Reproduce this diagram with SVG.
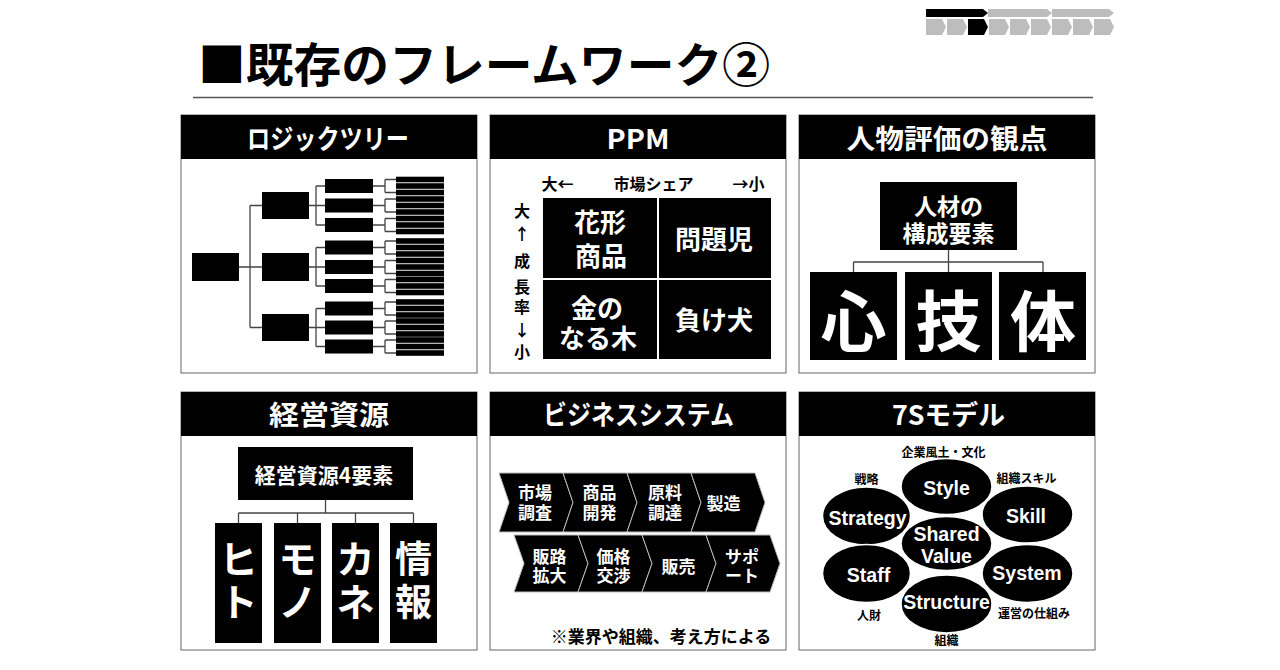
<svg xmlns="http://www.w3.org/2000/svg" width="1280" height="670" viewBox="0 0 1280 670">
<style>
text{font-family:"Noto Sans CJK JP","Noto Sans",sans-serif;font-weight:700;dominant-baseline:central;text-anchor:middle}
tspan{dominant-baseline:central}
.lt{font-family:"Liberation Sans","Noto Sans CJK JP",sans-serif}
.ar{font-family:"Noto Sans CJK JP",sans-serif}
.panel{fill:#fff;stroke:#666;stroke-width:1}
.hdr{fill:#000}
.ht{fill:#fff;font-size:27px}
.b{fill:#000}
.w{fill:#fff}
.con{stroke:#444;stroke-width:1.3;fill:none}
.chev{fill:#000;stroke:#bbb;stroke-width:1}
.ell{fill:#000;stroke:#fff;stroke-width:1.5}
.gr{fill:#bdbdbd}
.sm{font-size:12px;fill:#000}
.s7{font-family:"Liberation Sans","Noto Sans CJK JP",sans-serif;font-size:19.5px;fill:#fff}
</style>
<rect width="1280" height="670" fill="#fff"/>

<g id="progress">
<polygon points="926,9 983,9 988,13 983,17 926,17" fill="#000"/>
<polygon class="gr" points="988,9 1047,9 1052,13 1047,17 988,17"/>
<polygon class="gr" points="1052,9 1109,9 1114,13 1109,17 1052,17"/>
<polygon class="gr" points="926,19 942,19 946,27 942,35 926,35"/>
<polygon class="gr" points="947,19 963,19 967,27 963,35 947,35"/>
<polygon points="968,19 984,19 988,27 984,35 968,35" fill="#000"/>
<polygon class="gr" points="989,19 1005,19 1009,27 1005,35 989,35"/>
<polygon class="gr" points="1010,19 1026,19 1030,27 1026,35 1010,35"/>
<polygon class="gr" points="1031,19 1047,19 1051,27 1047,35 1031,35"/>
<polygon class="gr" points="1052,19 1068,19 1072,27 1068,35 1052,35"/>
<polygon class="gr" points="1073,19 1089,19 1093,27 1089,35 1073,35"/>
<polygon class="gr" points="1094,19 1110,19 1114,27 1110,35 1094,35"/>
</g>

<g id="title">
<text x="198" y="61" font-size="47" style="text-anchor:start" textLength="572" lengthAdjust="spacingAndGlyphs">■既存のフレームワーク②</text>
<line x1="193" y1="97.5" x2="1093" y2="97.5" stroke="#555" stroke-width="1.5"/>
</g>

<!-- Panel 1: Logic tree -->
<g id="panel-logictree">
<rect class="panel" x="181" y="115" width="296" height="258"/>
<rect class="hdr" x="181" y="115" width="296" height="44"/>
<text class="ht" x="328" y="137" textLength="162" lengthAdjust="spacingAndGlyphs">ロジックツリー</text>
<g id="lt-connectors">
<path class="con" d="M239,267H262 M250,205.5V327.5 M250,205.5H262 M250,327.5H262
M309,205.5H325 M316,186V225 M316,186H325 M316,225H325
M309,267H325 M316,247.5V286 M316,247.5H325 M316,286H325
M309,327.5H325 M316,308.5V346.5 M316,308.5H325 M316,346.5H325
M373,186H385 M385,179.5V192.5 M385,179.5H396 M385,192.5H396
M373,205.5H385 M385,199V212 M385,199H396 M385,212H396
M373,225H385 M385,218.5V231.5 M385,218.5H396 M385,231.5H396
M373,247.5H385 M385,241V254 M385,241H396 M385,254H396
M373,267H385 M385,260.5V273.5 M385,260.5H396 M385,273.5H396
M373,286H385 M385,279.5V292.5 M385,279.5H396 M385,292.5H396
M373,308.5H385 M385,302V315 M385,302H396 M385,315H396
M373,327.5H385 M385,321V334 M385,321H396 M385,334H396
M373,346.5H385 M385,340V353 M385,340H396 M385,353H396"/>
</g>
<g id="lt-root"><rect class="b" x="192" y="253" width="47" height="28"/></g>
<g id="lt-l1">
<rect class="b" x="262" y="192" width="47" height="27"/>
<rect class="b" x="262" y="253" width="47" height="28"/>
<rect class="b" x="262" y="314" width="47" height="27"/>
</g>
<g id="lt-l2">
<rect class="b" x="325" y="179" width="48" height="14"/>
<rect class="b" x="325" y="198.5" width="48" height="14"/>
<rect class="b" x="325" y="218" width="48" height="14"/>
<rect class="b" x="325" y="240.5" width="48" height="14"/>
<rect class="b" x="325" y="260" width="48" height="14"/>
<rect class="b" x="325" y="279" width="48" height="14"/>
<rect class="b" x="325" y="301.5" width="48" height="14"/>
<rect class="b" x="325" y="320.5" width="48" height="14"/>
<rect class="b" x="325" y="339.5" width="48" height="14"/>
</g>
<g id="lt-leaves">
<rect class="b" x="396" y="176.7" width="48" height="5.6"/><rect class="b" x="396" y="183.2" width="48" height="5.6"/><rect class="b" x="396" y="189.7" width="48" height="5.6"/>
<rect class="b" x="396" y="196.2" width="48" height="5.6"/><rect class="b" x="396" y="202.7" width="48" height="5.6"/><rect class="b" x="396" y="209.2" width="48" height="5.6"/>
<rect class="b" x="396" y="215.7" width="48" height="5.6"/><rect class="b" x="396" y="222.2" width="48" height="5.6"/><rect class="b" x="396" y="228.7" width="48" height="5.6"/>
<rect class="b" x="396" y="238.2" width="48" height="5.6"/><rect class="b" x="396" y="244.7" width="48" height="5.6"/><rect class="b" x="396" y="251.2" width="48" height="5.6"/>
<rect class="b" x="396" y="257.7" width="48" height="5.6"/><rect class="b" x="396" y="264.2" width="48" height="5.6"/><rect class="b" x="396" y="270.7" width="48" height="5.6"/>
<rect class="b" x="396" y="276.7" width="48" height="5.6"/><rect class="b" x="396" y="283.2" width="48" height="5.6"/><rect class="b" x="396" y="289.7" width="48" height="5.6"/>
<rect class="b" x="396" y="299.2" width="48" height="5.6"/><rect class="b" x="396" y="305.7" width="48" height="5.6"/><rect class="b" x="396" y="312.2" width="48" height="5.6"/>
<rect class="b" x="396" y="318.2" width="48" height="5.6"/><rect class="b" x="396" y="324.7" width="48" height="5.6"/><rect class="b" x="396" y="331.2" width="48" height="5.6"/>
<rect class="b" x="396" y="337.2" width="48" height="5.6"/><rect class="b" x="396" y="343.7" width="48" height="5.6"/><rect class="b" x="396" y="350.2" width="48" height="5.6"/>
</g>
</g>

<!-- Panel 2: PPM -->
<g id="panel-ppm">
<rect class="panel" x="490" y="115" width="296" height="258"/>
<rect class="hdr" x="490" y="115" width="296" height="44"/>
<text class="ht" x="638" y="137" textLength="63" lengthAdjust="spacingAndGlyphs">PPM</text>
<g font-size="16">
<text x="557.5" y="183">大←</text>
<text x="653.5" y="183">市場シェア</text>
<text x="748.5" y="183">→小</text>
<text class="lt"><tspan x="522" y="211">大</tspan><tspan class="ar" x="522" y="233">↑</tspan><tspan x="522" y="260.5">成</tspan><tspan x="522" y="286.5">長</tspan><tspan x="522" y="307">率</tspan><tspan class="ar" x="522" y="329">↓</tspan><tspan x="522" y="352">小</tspan></text>
</g>
<g id="ppm-star"><rect class="b" x="543" y="198" width="114" height="80"/>
<text class="w lt" font-size="26"><tspan x="600" y="223.3">花形</tspan><tspan x="601" y="257.3">商品</tspan></text></g>
<g id="ppm-problem"><rect class="b" x="659" y="198" width="112" height="80"/>
<text class="w" x="714" y="237.5" font-size="26">問題児</text></g>
<g id="ppm-cash"><rect class="b" x="543" y="280" width="114" height="79"/>
<text class="w lt" font-size="26"><tspan x="597" y="309">金の</tspan><tspan x="598" y="339">なる木</tspan></text></g>
<g id="ppm-dog"><rect class="b" x="659" y="280" width="112" height="79"/>
<text class="w" x="714" y="318.5" font-size="26">負け犬</text></g>
</g>

<!-- Panel 3: 人物評価の観点 -->
<g id="panel-person">
<rect class="panel" x="799" y="115" width="296" height="258"/>
<rect class="hdr" x="799" y="115" width="296" height="44"/>
<text class="ht" x="947" y="137" textLength="201" lengthAdjust="spacingAndGlyphs">人物評価の観点</text>
<g id="person-connectors"><path class="con" d="M948.5,250V262 M853.5,262H1043 M853.5,262V272 M948.5,262V272 M1043,262V272"/></g>
<g id="person-top"><rect class="b" x="880" y="182" width="137" height="68"/>
<text class="w lt" font-size="23"><tspan x="948.5" y="207">人材の</tspan><tspan x="948.5" y="234">構成要素</tspan></text></g>
<g id="person-shin"><rect class="b" x="810" y="272" width="87" height="88"/><text class="w" x="853.5" y="317" font-size="66">心</text></g>
<g id="person-gi"><rect class="b" x="905" y="272" width="87" height="88"/><text class="w" x="948.5" y="317" font-size="66">技</text></g>
<g id="person-tai"><rect class="b" x="999" y="272" width="87" height="88"/><text class="w" x="1043" y="317" font-size="66">体</text></g>
</g>

<!-- Panel 4: 経営資源 -->
<g id="panel-resources">
<rect class="panel" x="181" y="392" width="296" height="258"/>
<rect class="hdr" x="181" y="392" width="296" height="44"/>
<text class="ht" x="329" y="413.5" textLength="120" lengthAdjust="spacingAndGlyphs">経営資源</text>
<g id="res-connectors"><path class="con" d="M325.5,500V513 M238.5,513H413.5 M238.5,513V523 M297.5,513V523 M355.5,513V523 M413.5,513V523"/></g>
<g id="res-top"><rect class="b" x="238" y="447" width="175" height="53"/>
<text class="w" x="324" y="474" font-size="21">経営資源4要素</text></g>
<g id="res-hito"><rect class="b" x="215" y="523" width="47" height="120"/>
<text class="w lt" font-size="38"><tspan x="238.5" y="559.8">ヒ</tspan><tspan x="238.5" y="602.5">ト</tspan></text></g>
<g id="res-mono"><rect class="b" x="274" y="523" width="47" height="120"/>
<text class="w lt" font-size="38"><tspan x="297.5" y="559.8">モ</tspan><tspan x="297.5" y="602.5">ノ</tspan></text></g>
<g id="res-kane"><rect class="b" x="332" y="523" width="47" height="120"/>
<text class="w lt" font-size="38"><tspan x="355.5" y="559.8">カ</tspan><tspan x="355.5" y="602.5">ネ</tspan></text></g>
<g id="res-info"><rect class="b" x="390" y="523" width="47" height="120"/>
<text class="w lt" font-size="37"><tspan x="413.5" y="559.8">情</tspan><tspan x="413.5" y="602.5">報</tspan></text></g>
</g>

<!-- Panel 5: ビジネスシステム -->
<g id="panel-business">
<rect class="panel" x="490" y="392" width="296" height="258"/>
<rect class="hdr" x="490" y="392" width="296" height="44"/>
<text class="ht" x="638.5" y="413.5" textLength="191" lengthAdjust="spacingAndGlyphs">ビジネスシステム</text>
<g id="bs-1"><polygon class="chev" points="499,473 563,473 573,502.5 563,532 499,532 509,502.5"/>
<text class="w lt" font-size="17"><tspan x="535" y="493">市場</tspan><tspan x="535" y="513">調査</tspan></text></g>
<g id="bs-2"><polygon class="chev" points="563,473 627,473 637,502.5 627,532 563,532 573,502.5"/>
<text class="w lt" font-size="17"><tspan x="599.5" y="493">商品</tspan><tspan x="599.5" y="513">開発</tspan></text></g>
<g id="bs-3"><polygon class="chev" points="627,473 691,473 701,502.5 691,532 627,532 637,502.5"/>
<text class="w lt" font-size="17"><tspan x="665" y="493">原料</tspan><tspan x="665" y="513">調達</tspan></text></g>
<g id="bs-4"><polygon class="chev" points="691,473 755,473 765,502.5 755,532 691,532 701,502.5"/>
<text class="w" x="723.5" y="502" font-size="17">製造</text></g>
<g id="bs-5"><polygon class="chev" points="514,535 578,535 588,563.5 578,592 514,592 524,563.5"/>
<text class="w lt" font-size="17"><tspan x="549.5" y="556.5">販路</tspan><tspan x="549.5" y="576">拡大</tspan></text></g>
<g id="bs-6"><polygon class="chev" points="578,535 642,535 652,563.5 642,592 578,592 588,563.5"/>
<text class="w lt" font-size="17"><tspan x="613.5" y="556.5">価格</tspan><tspan x="613.5" y="576">交渉</tspan></text></g>
<g id="bs-7"><polygon class="chev" points="642,535 706,535 716,563.5 706,592 642,592 652,563.5"/>
<text class="w" x="678.5" y="565" font-size="17">販売</text></g>
<g id="bs-8"><polygon class="chev" points="706,535 770,535 780,563.5 770,592 706,592 716,563.5"/>
<text class="w lt" font-size="17"><tspan x="742" y="556.5">サポ</tspan><tspan x="742" y="576">ート</tspan></text></g>
<text x="661" y="635.5" font-size="17">※業界や組織、考え方による</text>
</g>

<!-- Panel 6: 7Sモデル -->
<g id="panel-7s">
<rect class="panel" x="799" y="392" width="296" height="258"/>
<rect class="hdr" x="799" y="392" width="296" height="44"/>
<text class="ht" x="948.5" y="413.5" textLength="113" lengthAdjust="spacingAndGlyphs">7Sモデル</text>
<g id="s-strategy"><ellipse class="ell" cx="866.5" cy="516" rx="44" ry="29"/><text class="s7" x="867.5" y="517.5">Strategy</text></g>
<g id="s-staff"><ellipse class="ell" cx="866.5" cy="573.5" rx="44" ry="29"/><text class="s7" x="868.5" y="575">Staff</text></g>
<g id="s-skill"><ellipse class="ell" cx="1027.5" cy="514.5" rx="45.5" ry="28.5"/><text class="s7" x="1026" y="516">Skill</text></g>
<g id="s-system"><ellipse class="ell" cx="1027.5" cy="573.5" rx="45.5" ry="29"/><text class="s7" x="1027" y="572.5">System</text></g>
<g id="s-style"><ellipse class="ell" cx="946.5" cy="486.5" rx="45.5" ry="28"/><text class="s7" x="946.5" y="488">Style</text></g>
<g id="s-structure"><ellipse class="ell" cx="946.5" cy="604" rx="45.5" ry="29"/><text class="s7" x="946.5" y="601.5">Structure</text></g>
<g id="s-shared"><ellipse class="ell" cx="946.5" cy="543.5" rx="45.5" ry="27"/><text class="s7"><tspan x="946.5" y="533.5">Shared</tspan><tspan x="946.5" y="555.5">Value</tspan></text></g>
<text class="sm" x="943.5" y="451">企業風土・文化</text>
<text class="sm" x="866.5" y="478.5">戦略</text>
<text class="sm" x="1026.5" y="477.5">組織スキル</text>
<text class="sm" x="869" y="614">人財</text>
<text class="sm" x="1034" y="612.5">運営の仕組み</text>
<text class="sm" x="946.5" y="639">組織</text>
</g>
</svg>
